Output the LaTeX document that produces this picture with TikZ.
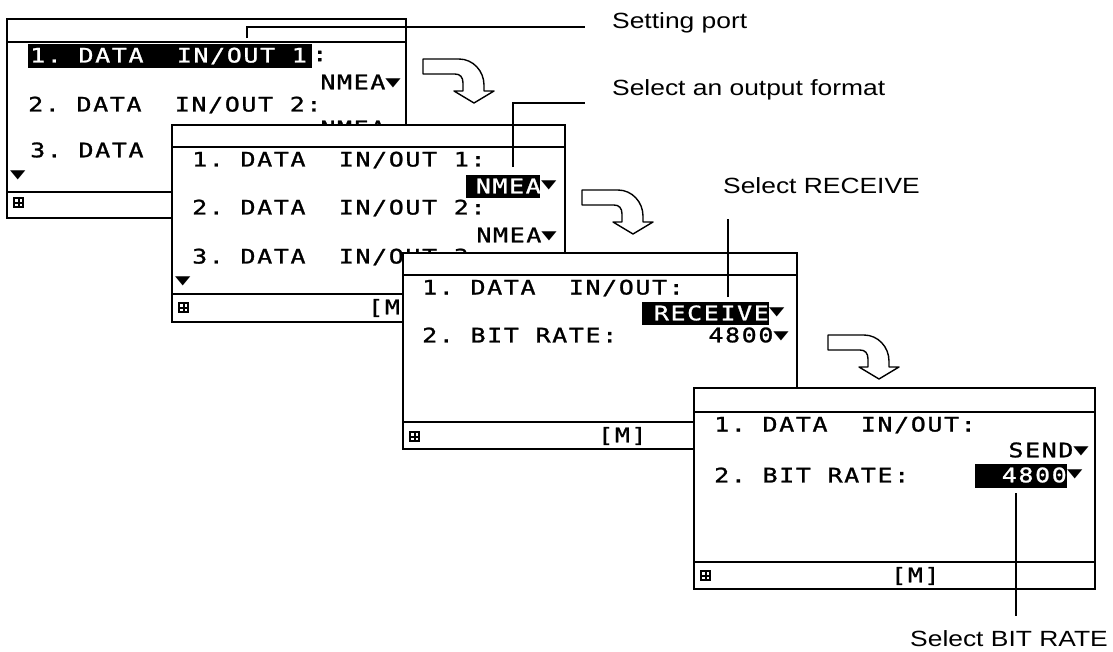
\documentclass[tikz,border=0pt]{standalone}
\usepackage{fontspec}
\usepackage{graphicx}
\usetikzlibrary{positioning,calc}
\setmainfont{Liberation Sans}
\newfontfamily\lcdfont[FakeStretch=1.25,LetterSpace=8,FakeBold=1.2]{DejaVu Sans Mono}
\newfontfamily\labelfont[FakeStretch=1.2]{Liberation Sans}
\newfontfamily\symfont{DejaVu Sans}
\newcommand{\dn}{\raisebox{0.3ex}{\scalebox{1.0}[0.6]{\symfont ▼}}}

\begin{document}
\begin{tikzpicture}[
            x=1pt, y=-1pt,
            screen/.style={draw, line width=1.8pt, fill=white},
            rule/.style={line width=2.4pt},
            lcd/.style={
                    font=\lcdfont\fontsize{20}{20}\selectfont,
                    inner sep=0pt,
                    anchor=west
                },
            lcdinv/.style={lcd, text=white},
            hlbox/.style={fill=black, inner sep=0pt, anchor=north west},
            caption/.style={
                    font=\labelfont\fontsize{22}{22}\selectfont,
                    inner sep=0pt,
                    anchor=base west
                },
            callout/.style={line width=1.5pt},
            turnarrow/.pic={
                    \draw[line width=1.4pt, fill=white, line join=round]
                    (0,0) -- (36,0) .. controls (50,0) and (61,12) .. (61,26)
                    -- (61,32) -- (71,32) -- (51,44) -- (31,32) -- (40,32) -- (40,24)
                    .. controls (40,18) and (37,15) .. (32,15) -- (0,15) -- cycle;
                },
            keyicon/.pic={
                    \fill (0,0) rectangle (11,11);
                    \fill[white] (2,2) rectangle (4.5,4.5);
                    \fill[white] (6.5,2) rectangle (9,4.5);
                    \fill[white] (2,6.5) rectangle (4.5,9);
                    \fill[white] (6.5,6.5) rectangle (9,9);
                }
        ]
        \useasboundingbox (0,0) rectangle (1113,651);

        % screen 1
        \draw[screen] (7,19) rectangle (406,218);
        \draw[rule] (7,42) -- (406,42);
        \draw[rule] (7,192) -- (406,192);
        \node[hlbox, minimum width=284, minimum height=24] (s1hl) at (28,44) {};
        \node[lcdinv] (s1a) at (30,56) {1.~DATA~~IN/OUT~1};
        \node[lcd] (s1b) at (312,56) {:};
        \node[lcd, anchor=east] (s1c) at (401,82) {NMEA\dn};
        \node[lcd] (s1d) at (28,105) {2.~DATA~~IN/OUT~2:};
        \node[lcd, anchor=east] (s1e) at (401,128) {NMEA\dn};
        \node[lcd] (s1f) at (30,150) {3.~DATA~~I};
        \node[lcd] (s1g) at (10,176) {\dn};
        \pic at (13,197) {keyicon};

        \pic at (423,59) {turnarrow};

        % screen 2
        \draw[screen] (172,125) rectangle (565,322);
        \draw[rule] (172,147) -- (565,147);
        \draw[rule] (172,294) -- (565,294);
        \node[lcd] (s2a) at (192,160) {1.~DATA~~IN/OUT~1:};
        \node[hlbox, minimum width=74, minimum height=23] (s2hl) at (466,175) {};
        \node[lcdinv, anchor=east] (s2b) at (541,186) {NMEA};
        \node[lcd] (s2c) at (541,186) {\dn};
        \node[lcd] (s2d) at (192,208) {2.~DATA~~IN/OUT~2:};
        \node[lcd, anchor=east] (s2e) at (557,235) {NMEA\dn};
        \node[lcd] (s2f) at (192,257) {3.~DATA~~IN/OUT~3:};
        \node[lcd] (s2g) at (175,282) {\dn};
        \pic at (178,302) {keyicon};
        \node[lcd] (s2h) at (368,308) {[M]};

        \pic at (582,190) {turnarrow};

        % screen 3
        \draw[screen] (403,253) rectangle (797,449);
        \draw[rule] (403,275) -- (797,275);
        \draw[rule] (403,422) -- (797,422);
        \node[lcd] (s3a) at (422,288) {1.~DATA~~IN/OUT:};
        \node[hlbox, minimum width=127, minimum height=23] (s3hl) at (642,302) {};
        \node[lcdinv, anchor=east] (s3b) at (769,313) {RECEIVE};
        \node[lcd] (s3c) at (769,313) {\dn};
        \node[lcd] (s3d) at (422,335) {2.~BIT~RATE:};
        \node[lcd, anchor=east] (s3e) at (789,335) {4800\dn};
        \pic at (409,431) {keyicon};
        \node[lcd] (s3f) at (598,436) {[M]};

        \pic at (828,335) {turnarrow};

        % screen 4
        \draw[screen] (694,388) rectangle (1095,589);
        \draw[rule] (694,412) -- (1095,412);
        \draw[rule] (694,562) -- (1095,562);
        \node[lcd] (s4a) at (714,425) {1.~DATA~~IN/OUT:};
        \node[lcd, anchor=east] (s4b) at (1089,450) {SEND\dn};
        \node[lcd] (s4c) at (714,475) {2.~BIT~RATE:};
        \node[hlbox, minimum width=92, minimum height=24] (s4hl) at (975,464) {};
        \node[lcdinv, anchor=east] (s4d) at (1067,475) {4800};
        \node[lcd] (s4e) at (1067,475) {\dn};
        \pic at (700,570) {keyicon};
        \node[lcd] (s4f) at (891,576) {[M]};

        % captions
        \node[caption] (lblport) at (612,28) {Setting port};
        \node[caption] (lblfmt) at (612,95) {Select an output format};
        \node[caption] (lblrecv) at (723,193) {Select RECEIVE};
        \node[caption] (lblrate) at (910,646) {Select BIT RATE};

        \coordinate (porttip) at (247,38);
        \coordinate (portend) at ($(lblport.base west)+(-27,-1)$);
        \coordinate (fmttip) at (513,167);
        \coordinate (fmtend) at ($(lblfmt.base west)+(-27,8)$);
        \coordinate (recvtip) at (728,297);
        \coordinate (recvend) at ($(lblrecv.base west -| recvtip)+(0,26)$);
        \coordinate (ratetip) at (1016,493);
        \coordinate (rateend) at ($(lblrate.base west -| ratetip)+(0,-30)$);

        \draw[callout] (porttip) |- (portend);
        \draw[callout] (fmttip) |- (fmtend);
        \draw[callout] (recvtip) -- (recvend);
        \draw[callout] (ratetip) -- (rateend);
    \end{tikzpicture}
\end{document}
